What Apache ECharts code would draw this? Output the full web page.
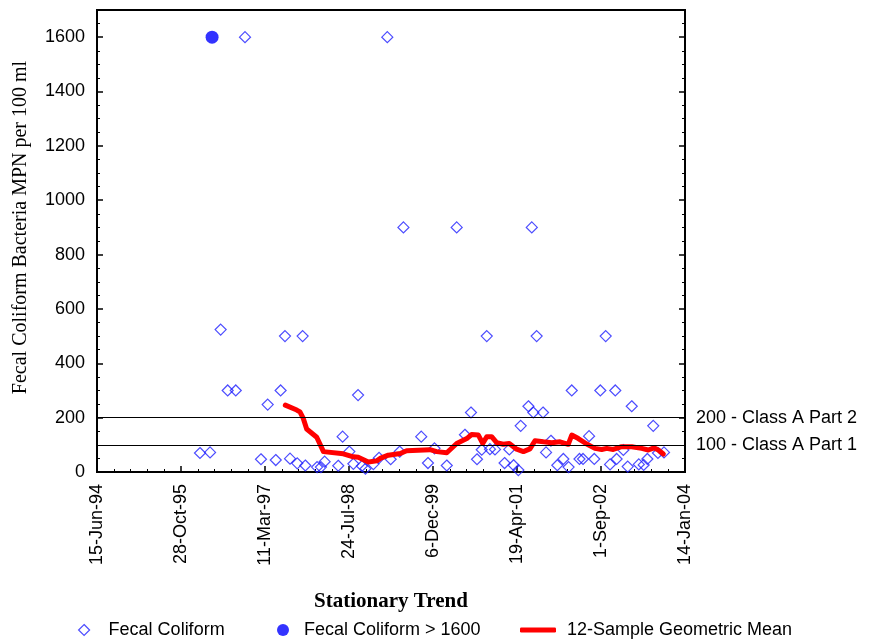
<!DOCTYPE html>
<html><head><meta charset="utf-8">
<script src="https://cdn.jsdelivr.net/npm/echarts@6/dist/echarts.min.js"></script>
<style>html,body{margin:0;padding:0;background:#fff}#c{width:870px;height:644px}</style>
</head><body><div id="c"></div>
<script>
// ---- data ----
const fecalDates = ['1996-02-18','1996-04-18','1996-06-20','1996-08-01','1996-09-18','1996-11-12','1997-02-15','1997-03-27','1997-05-14','1997-06-12',
'1997-07-08','1997-08-07','1997-09-19','1997-10-21','1997-11-06','1998-01-15','1998-02-07','1998-03-01','1998-05-21','1998-06-16',
'1998-07-26','1998-08-19','1998-09-16','1998-10-09','1998-10-30','1998-12-16','1999-01-19','1999-03-09','1999-03-29','1999-05-22',
'1999-06-13','1999-09-27','1999-11-06','1999-12-15','2000-02-26','2000-04-25','2000-06-13','2000-07-19','2000-08-24','2000-09-21',
'2000-10-21','2000-11-09','2000-12-09','2001-02-04','2001-03-04','2001-03-30','2001-04-27','2001-05-11','2001-06-26','2001-07-16',
'2001-07-25','2001-08-14','2001-09-21','2001-10-09','2001-11-07','2001-12-15','2002-01-20','2002-02-20','2002-03-11','2002-04-26',
'2002-05-17','2002-06-22','2002-07-23','2002-08-28','2002-09-29','2002-10-25','2002-11-25','2002-12-03','2003-01-12','2003-02-07',
'2003-03-03','2003-04-14','2003-05-13','2003-06-04','2003-07-09','2003-08-06','2003-09-11'];
const fecalValues = [70,72,524,300,300,1600,47,248,44,300,
500,49,32,500,24,18,18,38,23,130,
75,30,283,22,12,29,52,1600,47,75,
900,130,33,87,24,900,137,219,47,82,
500,84,83,33,83,25,7,170,242,900,
219,500,219,72,115,25,48,18,300,48,
48,132,48,300,500,28,300,48,81,20,
242,28,26,48,170,70,72];
const over1600Dates = ['1996-04-30'];
const over1600Values = [1600];
const gmDates = ['1997-07-10','1997-09-16','1997-10-05','1997-10-25','1997-11-14','1998-01-13','1998-02-22','1998-06-20','1998-08-19','1998-09-17',
'1998-11-16','1999-01-05','1999-01-25','1999-03-15','1999-05-25','1999-07-02','1999-11-18','1999-12-28','2000-02-26','2000-04-25',
'2000-06-24','2000-07-23','2000-09-01','2000-09-27','2000-10-21','2000-11-19','2000-12-19','2001-01-27','2001-03-04','2001-04-17',
'2001-05-27','2001-07-05','2001-08-04','2001-09-23','2001-11-12','2001-12-31','2002-02-18','2002-03-11','2002-04-19','2002-06-08',
'2002-07-27','2002-09-05','2002-10-05','2002-11-13','2003-01-02','2003-03-03','2003-05-01','2003-06-10','2003-07-13','2003-08-08','2003-09-07'];
const gmValues = [246,228,221,197,158,128,75,67,56,54,
37,41,50,62,68,78,82,75,71,105,
123,138,136,105,130,130,108,102,105,84,
75,85,115,111,108,111,102,136,123,103,
87,83,87,83,93,93,87,81,89,81,66];
const refLevels = [200, 100];
const refLabels = ['200 - Class A Part 2', '100 - Class A Part 1'];
const seriesNames = ['Fecal Coliform', 'Fecal Coliform > 1600', '12-Sample Geometric Mean'];
const xStartDate = '1994-06-15';
const xSpanDays = 3500, xTickDays = 500;
const yMax = 1700, yTick = 200;
const yTitle = 'Fecal Coliform Bacteria MPN per 100 ml';
const xTitle = 'Stationary Trend';

// ---- helpers ----
const DAY = 86400000;
function utc(s){ const p = s.split('-'); return Date.UTC(+p[0], +p[1]-1, +p[2]); }
const T0 = utc(xStartDate);
function dayOf(s){ return (utc(s) - T0) / DAY; }
const MON = ['Jan','Feb','Mar','Apr','May','Jun','Jul','Aug','Sep','Oct','Nov','Dec'];
function fmt(d){ const dt = new Date(T0 + Math.round(d) * DAY);
  return dt.getUTCDate() + '-' + MON[dt.getUTCMonth()] + '-' + String(dt.getUTCFullYear()).slice(2); }
const pairs = (ds, vs) => ds.map((d, i) => [dayOf(d), vs[i]]);

const SANS = 'Liberation Sans, Arial, sans-serif';
const SERIF = 'Liberation Serif, Times New Roman, serif';
const BLUE = '#1f1fff';

const chart = echarts.init(document.getElementById('c'), null, {renderer: 'canvas'});
chart.setOption({
  animation: false,
  backgroundColor: '#fff',
  grid: {left: 97, right: 185, top: 10, bottom: 172, show: true, borderColor: '#000', borderWidth: 2, backgroundColor: 'transparent'},
  xAxis: {
    type: 'value', min: 0, max: xSpanDays, interval: xTickDays,
    name: xTitle, nameLocation: 'middle', nameGap: 119,
    nameTextStyle: {fontFamily: SERIF, fontWeight: 'bold', fontSize: 21, color: '#000'},
    axisLine: {show: true, lineStyle: {color: '#000', width: 2}},
    axisTick: {show: true, inside: true, length: 6, lineStyle: {color: '#000', width: 1.5}},
    minorTick: {show: true, splitNumber: 5, length: 3, lineStyle: {color: '#000', width: 1}},
    splitLine: {show: false}, minorSplitLine: {show: false},
    axisLabel: {rotate: 90, margin: 12, fontFamily: SANS, fontSize: 18, color: '#000', formatter: v => fmt(v), showMinLabel: true, showMaxLabel: true}
  },
  yAxis: [{
    type: 'value', min: 0, max: yMax, interval: yTick, position: 'left',
    name: yTitle, nameLocation: 'middle', nameGap: 66,
    nameTextStyle: {fontFamily: SERIF, fontSize: 20, color: '#000', padding: [0, 0, 0, 27]},
    axisLine: {show: true, lineStyle: {color: '#000', width: 2}},
    axisTick: {show: true, inside: true, length: 6, lineStyle: {color: '#000', width: 1.5}},
    minorTick: {show: true, splitNumber: 4, length: 3, lineStyle: {color: '#000', width: 1}},
    splitLine: {show: false},
    axisLabel: {margin: 12, fontFamily: SANS, fontSize: 18, color: '#000', showMaxLabel: false, formatter: v => String(v)}
  }, {
    type: 'value', min: 0, max: yMax, interval: yTick, position: 'right',
    axisLine: {show: true, lineStyle: {color: '#000', width: 2}},
    axisTick: {show: true, inside: true, length: 6, lineStyle: {color: '#000', width: 1.5}},
    minorTick: {show: true, splitNumber: 4, length: 3, lineStyle: {color: '#000', width: 1}},
    splitLine: {show: false},
    axisLabel: {show: false}
  }],
  legend: [
    {data: [seriesNames[0]], left: 78, top: 621, padding: 0, itemWidth: 11, itemHeight: 11, icon: 'diamond',
     itemStyle: {color: '#fff', borderColor: BLUE, borderWidth: 1.2},
     textStyle: {fontFamily: SANS, fontSize: 18, color: '#000', padding: [0, 0, 0, 14]}},
    {data: [seriesNames[1]], left: 277, top: 621, padding: 0, itemWidth: 12, itemHeight: 12, icon: 'circle',
     textStyle: {fontFamily: SANS, fontSize: 18, color: '#000', padding: [0, 0, 0, 10]}},
    {data: [seriesNames[2]], left: 520, top: 621, padding: 0, itemWidth: 36, itemHeight: 5, icon: 'roundRect',
     itemStyle: {color: '#ff0000'},
     textStyle: {fontFamily: SANS, fontSize: 18, color: '#000', padding: [0, 0, 0, 6]}}
  ],
  series: [{
    name: seriesNames[0], type: 'scatter', data: pairs(fecalDates, fecalValues),
    symbol: 'diamond', symbolSize: 11, z: 3,
    itemStyle: {color: 'rgba(255,255,255,0)', borderColor: BLUE, borderWidth: 1.2},
    emphasis: {disabled: true},
    markLine: {
      silent: true, symbol: ['none', 'none'], animation: false,
      lineStyle: {color: '#000', width: 1, type: 'solid'},
      label: {show: true, position: 'end', distance: 11, formatter: '{b}', fontFamily: SANS, fontSize: 18, color: '#000'},
      emphasis: {disabled: true},
      data: refLevels.map((v, i) => ({yAxis: v, name: refLabels[i]}))
    }
  }, {
    name: seriesNames[1], type: 'scatter', data: pairs(over1600Dates, over1600Values),
    symbol: 'circle', symbolSize: 13, z: 3,
    itemStyle: {color: '#0000ff'}, emphasis: {disabled: true}
  }, {
    name: seriesNames[2], type: 'line', data: pairs(gmDates, gmValues),
    showSymbol: false, symbol: 'none', z: 4,
    lineStyle: {color: '#ff0000', width: 5, join: 'round', cap: 'round'},
    itemStyle: {color: '#ff0000'}, emphasis: {disabled: true}
  }]
});
</script></body></html>
